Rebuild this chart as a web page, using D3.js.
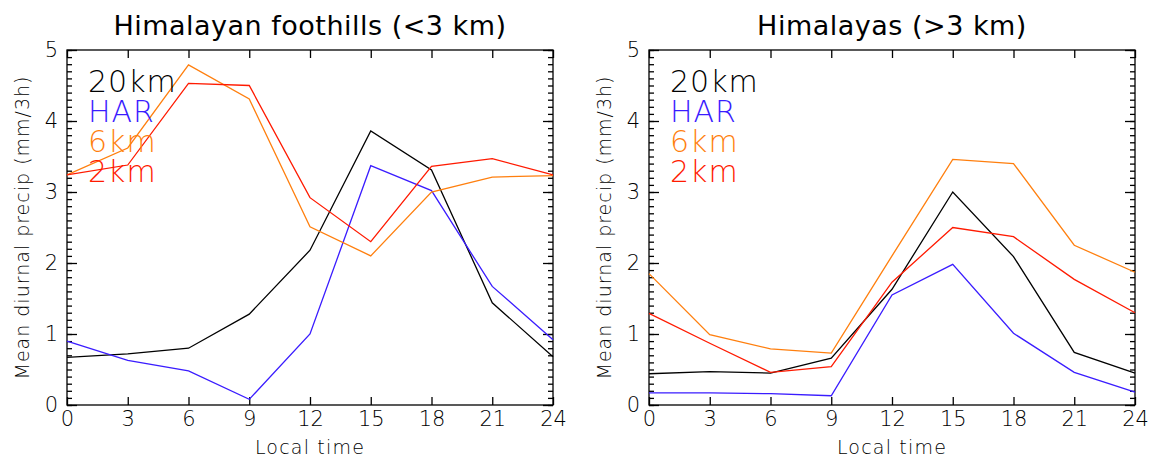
<!DOCTYPE html>
<html>
<head>
<meta charset="utf-8">
<script src="https://cdn.jsdelivr.net/npm/d3@7"></script>
<style>
  body { margin: 0; background: #fff; }
  text { font-family: "DejaVu Sans", sans-serif; }
</style>
</head>
<body>
<script>
// hours of day
const hours = [0, 3, 6, 9, 12, 15, 18, 21, 24];
const xTicks = [0, 3, 6, 9, 12, 15, 18, 21, 24];
const yTicks = [0, 1, 2, 3, 4, 5];

const seriesNames = ["20km", "HAR", "6km", "2km"];
const seriesColors = ["#000000", "#3a1cff", "#ff7f0e", "#ff1a00"];

// foothills (<3 km)
const foot20km = [0.67, 0.72, 0.80, 1.28, 2.18, 3.86, 3.31, 1.44, 0.68];
const footHAR  = [0.90, 0.63, 0.48, 0.08, 1.00, 3.37, 3.02, 1.67, 0.92];
const foot6km  = [3.24, 3.62, 4.79, 4.31, 2.51, 2.10, 3.00, 3.21, 3.23];
const foot2km  = [3.24, 3.38, 4.53, 4.50, 2.92, 2.30, 3.36, 3.47, 3.24];

// Himalayas (>3 km)
const high20km = [0.44, 0.47, 0.45, 0.66, 1.63, 3.00, 2.09, 0.74, 0.45];
const highHAR  = [0.17, 0.17, 0.16, 0.13, 1.55, 1.98, 1.01, 0.46, 0.18];
const high6km  = [1.85, 0.99, 0.79, 0.73, 2.10, 3.46, 3.40, 2.25, 1.87];
const high2km  = [1.29, 0.87, 0.46, 0.54, 1.73, 2.50, 2.37, 1.77, 1.30];

const panels = [
  {title: "Himalayan foothills (<3 km)", left: 67, series: [foot20km, footHAR, foot6km, foot2km]},
  {title: "Himalayas (>3 km)", left: 649, series: [high20km, highHAR, high6km, high2km]}
];

const width = 1149, height = 461;
const plotW = 486, plotTop = 50, plotBottom = 405;

const svg = d3.select("body").append("svg")
    .attr("width", width)
    .attr("height", height);

const y = d3.scaleLinear().domain([0, 5]).range([plotBottom, plotTop]);
const minor = d3.range(0, 5.001, 0.1);

panels.forEach(p => {
  const x = d3.scaleLinear().domain([0, 24]).range([p.left, p.left + plotW]);
  const g = svg.append("g");

  // box
  g.append("rect")
      .attr("x", p.left).attr("y", plotTop)
      .attr("width", plotW).attr("height", plotBottom - plotTop)
      .attr("fill", "none").attr("stroke", "#000").attr("stroke-width", 1.3);

  // bottom axis
  const xb = g.append("g").attr("transform", `translate(0,${plotBottom})`)
      .call(d3.axisBottom(x).tickValues(xTicks).tickSize(-8).tickPadding(6).tickFormat(d3.format("d")));
  // top axis
  const xt = g.append("g").attr("transform", `translate(0,${plotTop})`)
      .call(d3.axisTop(x).tickValues(xTicks).tickSize(-8).tickFormat(""));
  // left axis
  const yl = g.append("g").attr("transform", `translate(${p.left},0)`)
      .call(d3.axisLeft(y).tickValues(yTicks).tickSize(-10).tickPadding(9).tickFormat(d3.format("d")));
  const ylm = g.append("g").attr("transform", `translate(${p.left},0)`)
      .call(d3.axisLeft(y).tickValues(minor).tickSize(-5).tickFormat(""));
  // right axis
  const yr = g.append("g").attr("transform", `translate(${p.left + plotW},0)`)
      .call(d3.axisRight(y).tickValues(yTicks).tickSize(-10).tickFormat(""));
  const yrm = g.append("g").attr("transform", `translate(${p.left + plotW},0)`)
      .call(d3.axisRight(y).tickValues(minor).tickSize(-5).tickFormat(""));

  [xb, xt, yl, ylm, yr, yrm].forEach(a => {
    a.select(".domain").remove();
    a.selectAll("line").attr("stroke", "#000").attr("stroke-width", 1.3);
    a.selectAll("text").attr("font-size", 21).attr("fill", "#000")
        .attr("font-family", "DejaVu Sans, sans-serif").attr("font-weight", 200);
  });

  // lines
  const line = d3.line().x((d, i) => x(hours[i])).y(d => y(d));
  p.series.forEach((s, i) => {
    g.append("path")
        .datum(s)
        .attr("d", line)
        .attr("fill", "none")
        .attr("stroke", seriesColors[i])
        .attr("stroke-width", 1.3);
  });

  // legend
  seriesNames.forEach((n, i) => {
    g.append("text")
        .attr("x", p.left + 21)
        .attr("y", 92 + i * 30)
        .attr("fill", seriesColors[i])
        .attr("font-size", 30)
        .attr("font-weight", 200)
        .attr("letter-spacing", 1)
        .text(n);
  });

  // title
  g.append("text")
      .attr("x", p.left + plotW / 2)
      .attr("y", 35)
      .attr("text-anchor", "middle")
      .attr("font-size", 27)
      .attr("letter-spacing", 0.5)
      .text(p.title);

  // x label
  g.append("text")
      .attr("x", p.left + plotW / 2)
      .attr("y", 454)
      .attr("text-anchor", "middle")
      .attr("font-size", 19)
      .attr("font-weight", 200)
      .attr("letter-spacing", 1.2)
      .text("Local time");

  // y label
  g.append("text")
      .attr("transform", `translate(${p.left - 38},${(plotTop + plotBottom) / 2}) rotate(-90)`)
      .attr("text-anchor", "middle")
      .attr("font-size", 19)
      .attr("font-weight", 200)
      .attr("letter-spacing", 1)
      .text("Mean diurnal precip (mm/3h)");
});
</script>
</body>
</html>
